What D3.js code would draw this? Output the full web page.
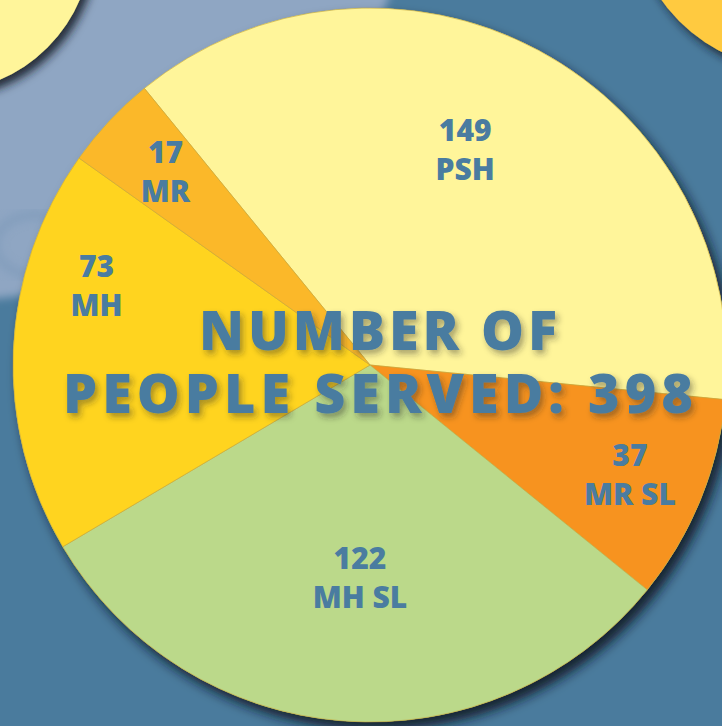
<!DOCTYPE html>
<html>
<head>
<meta charset="utf-8">
<script src="https://cdn.jsdelivr.net/npm/d3@7"></script>
<style>
  html, body { margin: 0; padding: 0; background: #4a7b9d; }
  svg { display: block; }
</style>
</head>
<body>
<script>
// ---- data ----
const categories = ["PSH", "MR SL", "MH SL", "MH", "MR"];
const values = [149, 37, 122, 73, 17];
const titleLines = ["NUMBER OF", "PEOPLE SERVED: 398"];

// ---- styles / layout ----
const sliceColors = ["#fff59a", "#f7931f", "#bbd98a", "#ffd41f", "#fbb829"];
const labelAngleOffset = [-4.4, 0.5, -1.5, 14, 0.4];   // degrees, label placement tweak
const labelRadius = [236, 282, 212, 285, 282];
const W = 722, H = 726;
const cx = 370, cy = 365, R = 357;
const startDeg = -39.2;
const textBlue = "#4a7ca0";

const svg = d3.select("body").append("svg").attr("width", W).attr("height", H);
const defs = svg.append("defs");

function shadow(id, dx, dy, sd, op, color) {
  const f = defs.append("filter").attr("id", id)
    .attr("x", "-20%").attr("y", "-20%").attr("width", "140%").attr("height", "140%");
  f.append("feDropShadow").attr("dx", dx).attr("dy", dy).attr("stdDeviation", sd)
    .attr("flood-color", color).attr("flood-opacity", op);
}
shadow("pieShadow", 6, 8, 6, 0.9, "#0e1620");
shadow("circShadow", 5, 6, 5, 0.9, "#141c26");
shadow("textShadow", 3, 4, 3, 0.4, "#2a2a20");
defs.append("filter").attr("id", "blurBg")
  .append("feGaussianBlur").attr("stdDeviation", 4);

// background
svg.append("rect").attr("width", W).attr("height", H).attr("fill", "#4a7b9d");
svg.append("circle").attr("cx", -40).attr("cy", -155).attr("r", 455)
  .attr("fill", "#8fa6c3").attr("filter", "url(#blurBg)");
svg.append("ellipse").attr("cx", 35).attr("cy", 245).attr("rx", 40).attr("ry", 30)
  .attr("fill", "none").attr("stroke", "#7a98b8").attr("stroke-width", 10).attr("opacity", 0.5)
  .attr("filter", "url(#blurBg)");

// corner circles
svg.append("circle").attr("cx", -60).attr("cy", -60).attr("r", 152)
  .attr("fill", "#fff59a").attr("filter", "url(#circShadow)");
svg.append("circle").attr("cx", 800).attr("cy", -100).attr("r", 171)
  .attr("fill", "#ffca40").attr("filter", "url(#circShadow)");

// pie
const toRad = d => d * Math.PI / 180;
const pie = d3.pie().sort(null)
  .startAngle(toRad(startDeg)).endAngle(toRad(startDeg) + 2 * Math.PI);
const arcs = pie(values);
const arc = d3.arc().innerRadius(0).outerRadius(R);

const g = svg.append("g").attr("transform", `translate(${cx},${cy})`);
g.append("circle").attr("r", R).attr("fill", "#bbd98a").attr("filter", "url(#pieShadow)");
g.selectAll("path.slice").data(arcs).join("path")
  .attr("class", "slice")
  .attr("d", arc)
  .attr("fill", (d, i) => sliceColors[i])
  .attr("stroke", "#c9a63a")
  .attr("stroke-width", 0.6);

// slice labels
const labelFont = "'Open Sans', 'Noto Sans', sans-serif";
arcs.forEach((d, i) => {
  const mid = (d.startAngle + d.endAngle) / 2 + toRad(labelAngleOffset[i]);
  const r = labelRadius[i];
  const x = r * Math.sin(mid), y = -r * Math.cos(mid);
  const t = g.append("text")
    .attr("text-anchor", "middle")
    .attr("font-family", labelFont)
    .attr("font-weight", 800)
    .attr("font-size", 30)
    .attr("fill", textBlue);
  t.append("tspan").attr("x", x).attr("y", y - 8).text(values[i]);
  t.append("tspan").attr("x", x).attr("y", y + 31).text(categories[i]);
});

// title
const titleBaselines = [350, 413];
const titleWidths = [358, 630];
titleLines.forEach((s, i) => {
  svg.append("text")
    .attr("x", 378)
    .attr("y", titleBaselines[i])
    .attr("text-anchor", "middle")
    .attr("font-family", labelFont)
    .attr("font-weight", 800)
    .attr("font-size", 54)
    .attr("textLength", titleWidths[i])
    .attr("lengthAdjust", "spacing")
    .attr("fill", textBlue)
    .attr("filter", "url(#textShadow)")
    .text(s);
});
</script>
</body>
</html>
